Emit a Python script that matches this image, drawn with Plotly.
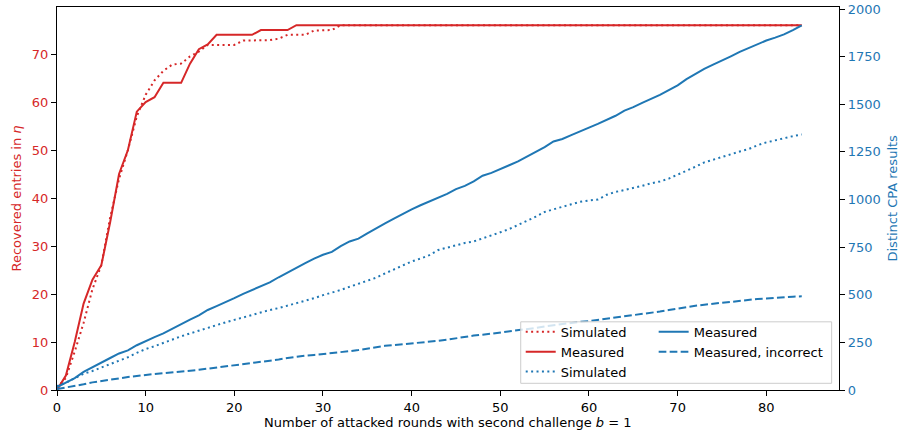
import plotly.graph_objects as go

rounds = list(range(0, 85))

red_simulated = [0.5, 2.5, 8, 14, 21, 26, 36, 44, 50, 57, 61.5, 64.5, 66.5, 67.8, 68, 69.5, 70.5, 71.9, 71.9, 71.9,
                 71.9, 72.8, 72.8, 72.8, 72.9, 73.2, 74, 74, 74, 74.9, 74.9, 75, 76] + [76] * 52
red_measured = [0, 3, 10, 18, 23, 26, 35, 45, 50, 58, 60, 61, 64, 64, 64, 68, 71, 72, 74, 74,
                74, 74, 74, 75, 75, 75, 75] + [76] * 58

blue_simulated = [20, 38, 62, 85, 100, 118, 135, 155, 172, 195, 215, 230, 248, 265, 282, 297, 312, 328, 342, 355,
                  368, 382, 395, 410, 420, 430, 442, 455, 468, 482, 498, 510, 525, 542, 558, 572, 590, 612, 632, 655,
                  675, 690, 708, 735, 748, 760, 772, 780, 795, 812, 828, 845, 866, 885, 910, 935, 950, 962, 975, 988,
                  995, 1000, 1025, 1040, 1050, 1060, 1072, 1085, 1095, 1110, 1130, 1150, 1172, 1195, 1210, 1225, 1240,
                  1252, 1265, 1285, 1300, 1312, 1322, 1333, 1342]
blue_measured = [15, 40, 62, 95, 118, 142, 168, 192, 208, 235, 258, 278, 297, 322, 348, 370, 392, 420, 440, 460,
                 482, 505, 525, 545, 565, 592, 618, 642, 666, 690, 710, 725, 755, 780, 795, 822, 850, 875, 900, 925,
                 948, 970, 990, 1008, 1030, 1055, 1072, 1095, 1125, 1140, 1158, 1180, 1200, 1225, 1250, 1275, 1305,
                 1318, 1338, 1360, 1378, 1397, 1418, 1440, 1467, 1485, 1508, 1528, 1550, 1575, 1600, 1632, 1660, 1686,
                 1708, 1728, 1752, 1775, 1795, 1815, 1835, 1850, 1867, 1890, 1915]
blue_incorrect = [5, 12, 22, 30, 40, 48, 55, 62, 68, 74, 80, 84, 88, 92, 96, 100, 106, 112, 118, 122,
                  128, 134, 140, 146, 152, 160, 168, 176, 180, 184, 188, 192, 198, 204, 210, 218, 226, 232, 236, 240,
                  244, 250, 254, 258, 264, 272, 280, 286, 290, 296, 300, 306, 312, 318, 326, 334, 340, 348, 354, 358,
                  362, 368, 374, 380, 386, 390, 396, 404, 412, 420, 428, 436, 442, 448, 454, 458, 462, 468, 474, 478,
                  480, 484, 487, 490, 492]

x_ticks = [0, 10, 20, 30, 40, 50, 60, 70, 80]
left_ticks = [0, 10, 20, 30, 40, 50, 60, 70]
right_ticks = [0, 250, 500, 750, 1000, 1250, 1500, 1750, 2000]

RED = "#d62728"
BLUE = "#1f77b4"
FONT = "DejaVu Sans"
DOT = "2px,3.4px"
DASH = "7.7px,3.3px"
LW = 2

fig = go.Figure()
fig.add_trace(go.Scatter(x=rounds, y=red_simulated, mode="lines", name="Simulated",
                         line=dict(color=RED, width=LW, dash=DOT), legend="legend"))
fig.add_trace(go.Scatter(x=rounds, y=red_measured, mode="lines", name="Measured",
                         line=dict(color=RED, width=LW), legend="legend"))
fig.add_trace(go.Scatter(x=rounds, y=blue_simulated, mode="lines", name="Simulated",
                         line=dict(color=BLUE, width=LW, dash=DOT), yaxis="y2", legend="legend"))
fig.add_trace(go.Scatter(x=rounds, y=blue_measured, mode="lines", name="Measured",
                         line=dict(color=BLUE, width=LW), yaxis="y2", legend="legend2"))
fig.add_trace(go.Scatter(x=rounds, y=blue_incorrect, mode="lines", name="Measured, incorrect",
                         line=dict(color=BLUE, width=LW, dash=DASH), yaxis="y2", legend="legend2"))

axis_common = dict(showgrid=False, zeroline=False, showline=True, linecolor="black", linewidth=1.2,
                   ticks="outside", ticklen=5, tickwidth=1.2, tickcolor="black", automargin=False)

fig.update_layout(
    width=904, height=438,
    margin=dict(l=57, r=65, t=7, b=48, autoexpand=False),
    paper_bgcolor="white", plot_bgcolor="white",
    font=dict(family=FONT, size=13, color="black"),
    xaxis=dict(range=[0, 88.2], tickvals=x_ticks, mirror=True, tickfont=dict(size=13), **axis_common),
    yaxis=dict(range=[0, 79.8], tickvals=left_ticks, tickfont=dict(color=RED, size=13), **axis_common),
    yaxis2=dict(range=[0, 2011], tickvals=right_ticks, overlaying="y", side="right",
                tickfont=dict(color=BLUE, size=13), **axis_common),
    legend=dict(x=0.593, y=0.191, xanchor="left", yanchor="top", bgcolor="rgba(0,0,0,0)",
                borderwidth=0, font=dict(size=13), tracegroupgap=0),
    legend2=dict(x=0.763, y=0.191, xanchor="left", yanchor="top", bgcolor="rgba(0,0,0,0)",
                 borderwidth=0, font=dict(size=13)),
    shapes=[dict(type="rect", xref="paper", yref="paper", x0=0.593, x1=0.9906, y0=0.0175, y1=0.178,
                 fillcolor="rgba(255,255,255,0.8)", line=dict(color="#cccccc", width=1), layer="above")],
    annotations=[
        dict(text="Number of attacked rounds with second challenge <i>b</i> = 1", xref="paper", yref="paper",
             x=0.5, y=-0.086, xanchor="center", yanchor="middle", showarrow=False,
             font=dict(size=13, color="black")),
        dict(text="Recovered entries in <i>η</i>", xref="paper", yref="paper", x=-0.0524, y=0.5,
             xanchor="center", yanchor="middle", textangle=-90, showarrow=False, font=dict(size=13, color=RED)),
        dict(text="Distinct CPA results", xref="paper", yref="paper", x=1.0678, y=0.5,
             xanchor="center", yanchor="middle", textangle=-90, showarrow=False, font=dict(size=13, color=BLUE)),
    ],
    showlegend=True,
)

fig.write_html("out.html", config={"displayModeBar": False},
               post_script="document.body.style.margin='0';document.body.style.overflow='hidden';")
